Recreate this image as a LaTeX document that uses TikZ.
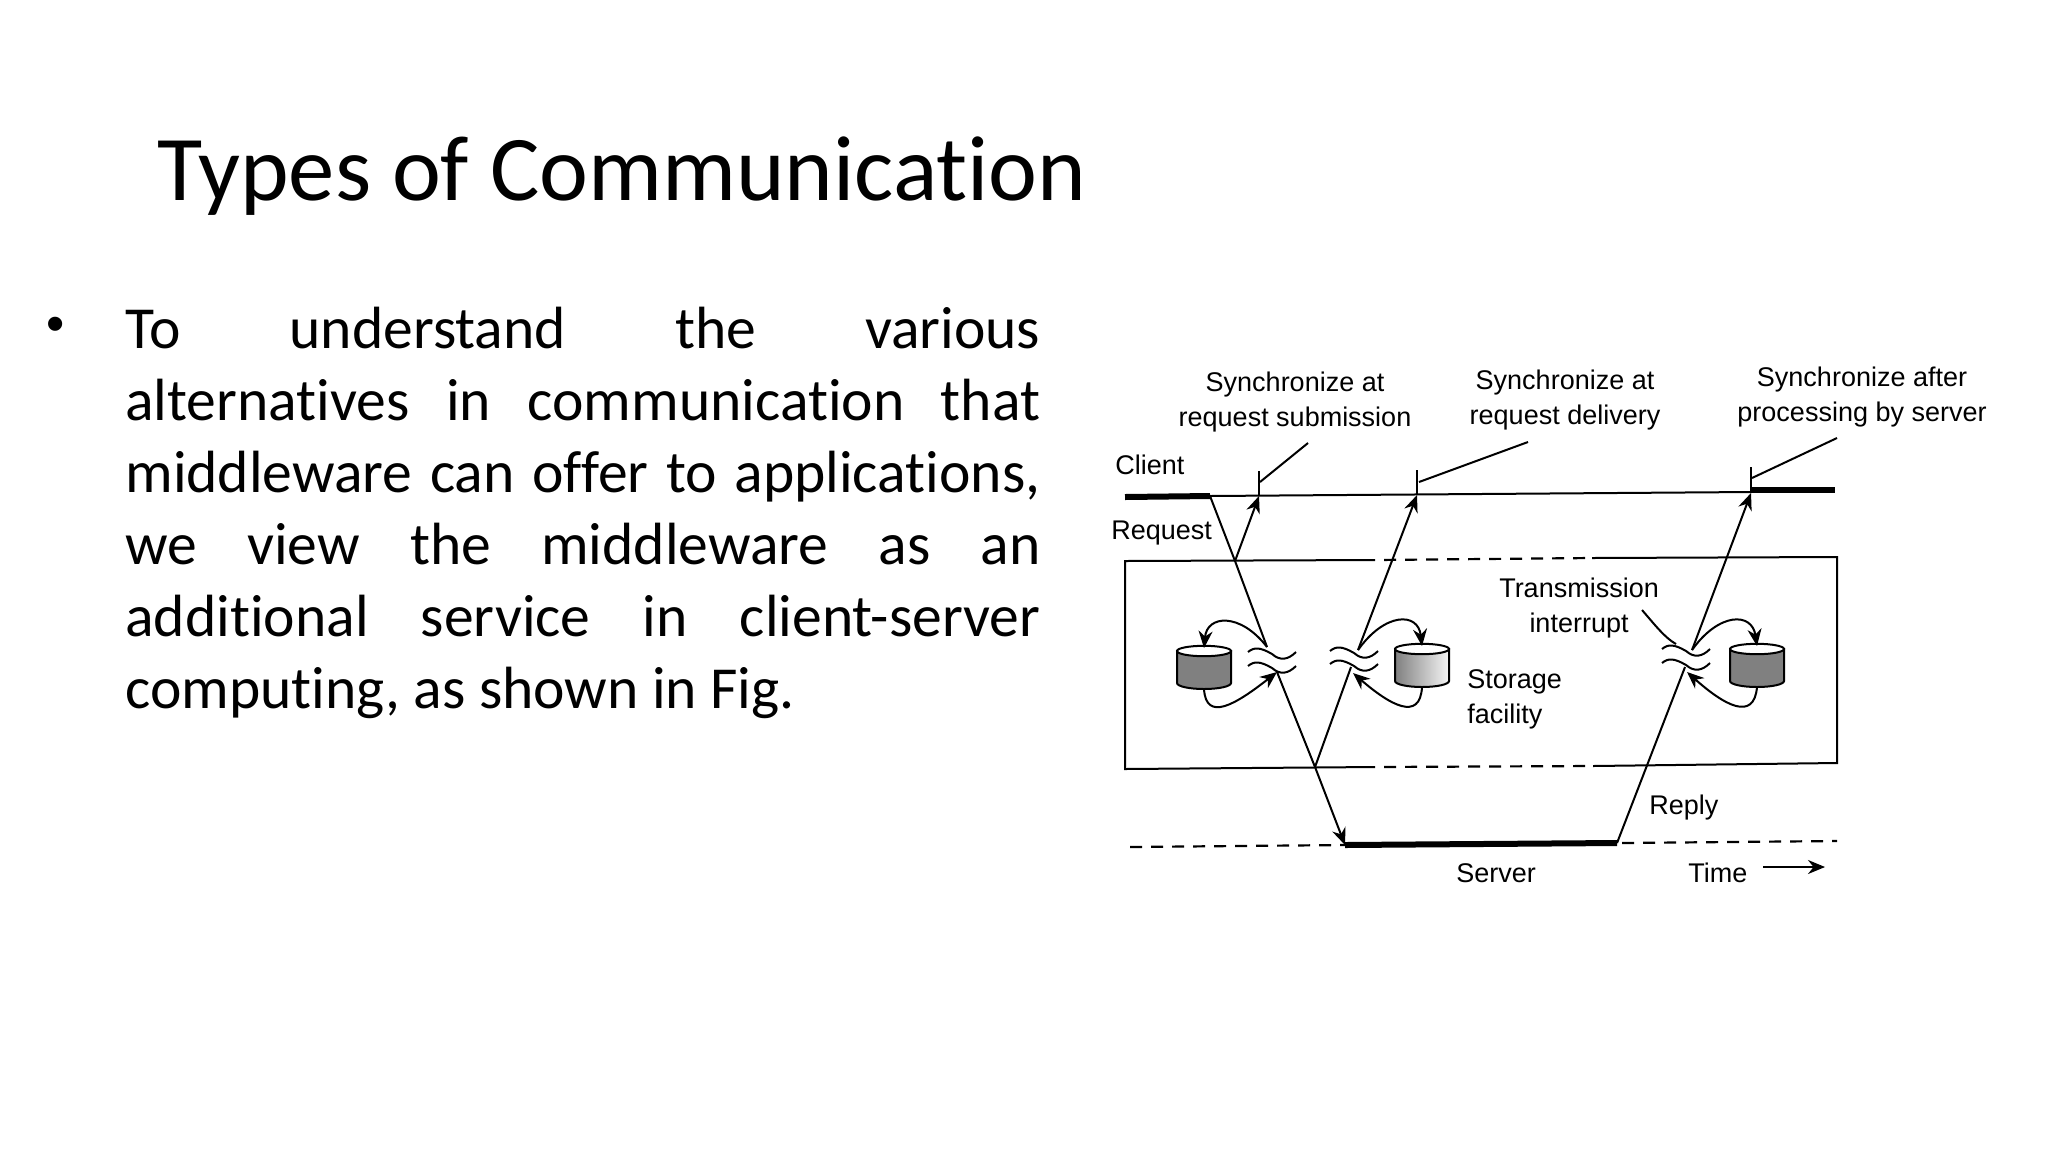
\documentclass[tikz,border=0pt]{standalone}
\usepackage{fontspec}
\setmainfont[Ligatures=NoCommon]{Carlito}
\newfontfamily\figfont{Liberation Sans}
\usetikzlibrary{positioning,arrows.meta}
\tikzset{
  lbl/.style={align=center,inner sep=0pt,font=\figfont\fontsize{13.5}{17.5}\selectfont},
  thin line/.style={line width=1pt},
  thick line/.style={line width=3pt},
  dsh/.style={line width=1.1pt,dash pattern=on 6pt off 4.5pt},
  dshgap/.style={dsh,dash phase=6pt},
  fl/.style={-{Stealth[length=8.5pt,width=7pt]},line width=1pt},
  wave/.style={line width=1pt},
  cyl/.style={inner sep=0pt,outer sep=0pt,minimum width=27pt,minimum height=16pt},
  cyldark/.style={draw,line width=1pt,fill=gray},
  cylfade/.style={draw,line width=1pt,left color=gray,right color=gray!8},
}
\begin{document}
\begin{tikzpicture}[x=0.5pt,y=-0.5pt]
\useasboundingbox (0,0) rectangle (2048,1152);
% slide text
\node[anchor=base west,inner sep=0pt,font=\fontsize{46.3}{50}\selectfont] (title) at (157,200) {Types of Communication};
\node[inner sep=0pt,font=\figfont\fontsize{26}{26}\selectfont] (dot) at (56,329) {•};
\node[anchor=north west,inner sep=0pt,text width=457.5pt,align=justify,font=\fontsize{29.8}{36}\selectfont] (body) at (125,307) {To understand the various\linebreak
alternatives in communication that\linebreak
middleware can offer to applications,\linebreak
we view the middleware as an\linebreak
additional service in client-server\linebreak
computing, as shown in Fig.};
% points on the client line
\coordinate (cla) at (1125,497);
\coordinate (clb) at (1210,496);
\coordinate (clc) at (1751,492);
\coordinate (cld) at (1835,490);
\coordinate (syna) at (1259,496);
\coordinate (synb) at (1417,495);
\coordinate (sync) at (1751,493);
% box corners
\coordinate (boxa) at (1125,561);
\coordinate (boxb) at (1837,557);
\coordinate (boxc) at (1837,763);
\coordinate (boxd) at (1125,769);
\coordinate (boxe) at (1375,560);
\coordinate (boxf) at (1592,558);
\coordinate (boxg) at (1593,766);
\coordinate (boxh) at (1375,767);
% server line
\coordinate (sva) at (1130,847);
\coordinate (svb) at (1345,845);
\coordinate (svc) at (1617,843);
\coordinate (svd) at (1622,843);
\coordinate (sve) at (1837,841);
% crossings
\coordinate (reqa) at (1235,561);
\coordinate (reqb) at (1267,647);
\coordinate (reqc) at (1277,672);
\coordinate (reqd) at (1315,767);
\coordinate (dela) at (1351,667);
\coordinate (delb) at (1358,650);
\coordinate (delc) at (1353,673);
\coordinate (repa) at (1685,667);
\coordinate (repb) at (1692,650);
\coordinate (repc) at (1687,672);
% storage
\node[cyl] (cyla) at (1204,667) {};
\node[cyl] (cylb) at (1422,665) {};
\node[cyl] (cylc) at (1757,665) {};
\foreach \cy/\sty in {cyla/cyldark,cylb/cylfade,cylc/cyldark}{
  \path[\sty] (\cy.north west) -- (\cy.south west) arc[start angle=180,end angle=360,x radius=13.5pt,y radius=3pt] -- (\cy.north east) -- cycle;
  \draw[line width=1pt,fill=white] (\cy.north) ellipse[x radius=13.5pt,y radius=2.6pt];
}
% labels
\node[lbl] (syncsub) at (1295,402) {Synchronize at\\request submission};
\node[lbl] (syncdel) at (1565,400) {Synchronize at\\request delivery};
\node[lbl] (syncsrv) at (1862,397) {Synchronize after\\processing by server};
\node[lbl,anchor=west] (client) at (1115,465) {Client};
\node[lbl,anchor=west] (request) at (1111,533) {Request};
\node[lbl] (trans) at (1579,608) {Transmission\\interrupt};
\node[lbl,anchor=west,align=left] (store) at (1467,699) {Storage\\facility};
\node[lbl] (server) at (1496,873) {Server};
\node[lbl,anchor=west] (reply) at (1649,808) {Reply};
\node[lbl,anchor=west] (time) at (1688,873) {Time};
\coordinate (tma) at (1763,867);
\coordinate (tmb) at (1825,867);
% pointers
\coordinate (pta) at (1308,443);
\coordinate (ptb) at (1528,442);
\coordinate (ptc) at (1837,438);
\coordinate (ptd) at (1642,610);
\coordinate (pte) at (1676,644);
\coordinate (tka) at (1259,471);
\coordinate (tkb) at (1417,470);
\coordinate (tkc) at (1751,467);
\coordinate (tpa) at (1260,482);
\coordinate (tpb) at (1419,482);
\coordinate (tpc) at (1752,478);
% client line
\draw[thick line] (cla) -- (clb);
\draw[thin line] (clb) -- (clc);
\draw[thick line] (clc) ++(0,-2) -- (cld);
\draw[thin line,line width=1.4pt] (tka) -- (syna);
\draw[thin line,line width=1.4pt] (tkb) -- (synb);
\draw[thin line,line width=1.4pt] (tkc) -- (sync);
\draw[thin line] (tpa) -- (pta);
\draw[thin line] (tpb) -- (ptb);
\draw[thin line] (tpc) -- (ptc);
% box
\draw[thin line] (boxe) -- (boxa) -- (boxd) -- (boxh);
\draw[thin line] (boxf) -- (boxb) -- (boxc) -- (boxg);
\draw[dshgap] (boxe) -- (boxf);
\draw[dshgap] (boxh) -- (boxg);
% server line
\draw[dsh] (sva) -- (svb);
\draw[thick line] (svb) -- (svc);
\draw[dsh] (svd) -- (sve);
% flows
\draw[thin line] (clb) -- (reqa) -- (reqb);
\draw[fl] (reqc) -- (reqd) -- (svb);
\draw[fl] (reqa) -- (syna);
\draw[thin line] (reqd) -- (dela);
\draw[fl] (delb) -- (synb);
\draw[thin line] (svc) -- (repa);
\draw[fl] (repb) -- (sync);
\draw[fl] (tma) -- (tmb);
\draw[thin line] (ptd) .. controls (1655,625) and (1665,638) .. (pte);
% breaks
\foreach \xa/\ya in {1248/648,1248/662,1330/647,1330/660,1662/645,1662/659}
  \draw[wave] (\xa,\ya+4) .. controls (\xa+6,\ya-1) and (\xa+12,\ya-1) .. (\xa+24,\ya+6) .. controls (\xa+32,\ya+13) and (\xa+40,\ya+12) .. (\xa+48,\ya+4);
% storage arrows
\draw[fl] (reqb) .. controls (1240,612) and (1207,615) .. ([yshift=1.5pt]cyla.north);
\draw[fl] ([yshift=-3pt]cyla.south) .. controls (1206,722) and (1235,705) .. (reqc);
\draw[fl] (delb) .. controls (1385,612) and (1418,612) .. ([yshift=1.5pt]cylb.north);
\draw[fl] ([yshift=-3pt]cylb.south) .. controls (1420,722) and (1390,705) .. (delc);
\draw[fl] (repb) .. controls (1719,612) and (1752,612) .. ([yshift=1.5pt]cylc.north);
\draw[fl] ([yshift=-3pt]cylc.south) .. controls (1754,722) and (1724,705) .. (repc);
\end{tikzpicture}
\end{document}
